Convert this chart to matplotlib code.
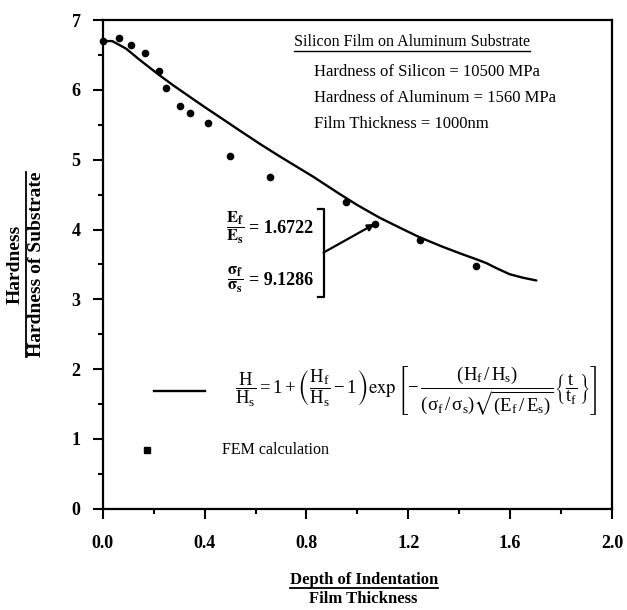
import matplotlib
matplotlib.use("Agg")
import matplotlib.pyplot as plt
from matplotlib.lines import Line2D
from matplotlib.ticker import MultipleLocator

plt.rcParams["font.family"] = ["Liberation Serif", "DejaVu Serif"]
plt.rcParams["mathtext.fontset"] = "stix"
plt.rcParams["mathtext.default"] = "regular"

# FEM calculation points (depth / film thickness, hardness ratio)
fem_x = [0.0, 0.063, 0.111, 0.165, 0.219, 0.250, 0.304, 0.341, 0.415,
         0.498, 0.655, 0.956, 1.068, 1.247, 1.467]
fem_y = [6.70, 6.75, 6.65, 6.53, 6.27, 6.03, 5.77, 5.67, 5.52,
         5.06, 4.75, 4.39, 4.08, 3.85, 3.48]

fit_x = [0.0, 0.037, 0.092, 0.145, 0.219, 0.275, 0.35, 0.406, 0.48, 0.537,
         0.62, 0.694, 0.825, 0.930, 1.0, 1.087, 1.17, 1.244, 1.33, 1.402,
         1.47, 1.506, 1.55, 1.598, 1.65, 1.703]
fit_y = [6.70, 6.70, 6.59, 6.43, 6.22, 6.07, 5.88, 5.74, 5.56, 5.42,
         5.22, 5.05, 4.76, 4.51, 4.35, 4.17, 4.02, 3.89, 3.76, 3.66,
         3.57, 3.52, 3.44, 3.36, 3.31, 3.27]

x_ticks = [0.0, 0.4, 0.8, 1.2, 1.6, 2.0]
y_ticks = [0, 1, 2, 3, 4, 5, 6, 7]

info_title = "Silicon Film on Aluminum Substrate"
info_lines = ["Hardness of Silicon = 10500 MPa",
              "Hardness of Aluminum = 1560 MPa",
              "Film Thickness = 1000nm"]

E_ratio = "1.6722"
sigma_ratio = "9.1286"
arrow_target = (1.068, 4.08)

fig = plt.figure(figsize=(6.27, 6.10), dpi=100)
ax = fig.add_axes([0.164, 0.166, 0.812, 0.801])

ax.plot(fit_x, fit_y, color="black", lw=1.7, solid_capstyle="round")
ax.plot(fem_x, fem_y, "o", color="black", ms=4.5, clip_on=False)

ax.set_xlim(0, 2.0)
ax.set_ylim(0, 7)
ax.set_xticks(x_ticks)
ax.set_xticklabels([f"{v:.1f}" for v in x_ticks])
ax.set_yticks(y_ticks)
ax.xaxis.set_minor_locator(MultipleLocator(0.2))
ax.yaxis.set_minor_locator(MultipleLocator(0.5))
ax.tick_params(which="both", direction="out", width=1.5, top=False, right=False)
ax.tick_params(which="major", length=7, labelsize=13)
ax.tick_params(axis="x", which="major", pad=12)
ax.tick_params(axis="y", which="major", pad=9)
ax.tick_params(which="minor", length=3.5)
for lab in ax.get_xticklabels() + ax.get_yticklabels():
    lab.set_fontweight("bold")
for sp in ax.spines.values():
    sp.set_linewidth(1.6)

# info block
t_title = ax.text(0.75, 6.68, info_title, fontsize=11.5, va="center", ha="left")
for i, s in enumerate(info_lines):
    ax.text(0.83, 6.25 - i * 0.37, s, fontsize=12, va="center", ha="left")

# ratio annotations with bracket
ax.text(0.52, 4.02, r"$\dfrac{\mathbf{E}_{\mathbf{f}}}{\mathbf{E}_{\mathbf{s}}}$",
        fontsize=12, ha="center", va="center")
ax.text(0.575, 4.02, "= " + E_ratio, fontsize=13, weight="bold", ha="left", va="center")
ax.text(0.52, 3.27, r"$\dfrac{\mathbf{\sigma}_{\mathbf{f}}}{\mathbf{\sigma}_{\mathbf{s}}}$",
        fontsize=12, ha="center", va="center")
ax.text(0.575, 3.27, "= " + sigma_ratio, fontsize=13, weight="bold", ha="left", va="center")
ax.plot([0.845, 0.867, 0.867, 0.845], [4.30, 4.30, 3.03, 3.03], color="black", lw=1.6)
ax.annotate("", xy=arrow_target, xytext=(0.867, 3.67),
            arrowprops=dict(arrowstyle="-|>", color="black", lw=1.6, mutation_scale=10,
                            shrinkA=0, shrinkB=0))

# legend drawn by hand
ax.plot([0.20, 0.40], [1.68, 1.68], color="black", lw=1.7)
ax.text(0.52, 1.68,
        r"$\dfrac{H}{H_s} = 1 + \left(\dfrac{H_f}{H_s} - 1\right)\exp\left[-\,"
        r"\dfrac{(H_f\,/\,H_s)}{(\sigma_f\,/\,\sigma_s)\sqrt{(E_f\,/\,E_s)}}"
        r"\left\{\dfrac{t}{t_f}\right\}\right]$",
        fontsize=13.5, ha="left", va="center")
ax.plot([0.173], [0.84], "s", color="black", ms=4.5)
ax.text(0.47, 0.84, "FEM calculation", fontsize=11.5, ha="left", va="center")

# axis labels as fractions
yl1 = fig.text(0.024, 0.566, "Hardness", rotation=90, fontsize=14, weight="bold",
               ha="center", va="center")
yl2 = fig.text(0.059, 0.566, "Hardness of Substrate", rotation=90, fontsize=14,
               weight="bold", ha="center", va="center")
xl1 = fig.text(0.58, 0.049, "Depth of Indentation", fontsize=12, weight="bold",
               ha="center", va="center")
xl2 = fig.text(0.58, 0.018, "Film Thickness", fontsize=12, weight="bold",
               ha="center", va="center")

fig.canvas.draw()
r = fig.canvas.get_renderer()
inv = fig.transFigure.inverted()

bb = t_title.get_window_extent(r)
(x0, y0), (x1, _) = inv.transform([(bb.x0, bb.y0 - 1), (bb.x1, bb.y0)])
fig.add_artist(Line2D([x0, x1], [y0, y0], color="black", lw=1.0))

bb = xl1.get_window_extent(r)
(x0, y0), (x1, _) = inv.transform([(bb.x0, bb.y0), (bb.x1, bb.y0)])
fig.add_artist(Line2D([x0, x1], [y0, y0], color="black", lw=1.3))

bb = yl2.get_window_extent(r)
(x0, y0), (_, y1) = inv.transform([(bb.x0 - 2, bb.y0), (bb.x0, bb.y1)])
fig.add_artist(Line2D([x0, x0], [y0, y1], color="black", lw=1.3))

fig.savefig("out.png", dpi=100)
